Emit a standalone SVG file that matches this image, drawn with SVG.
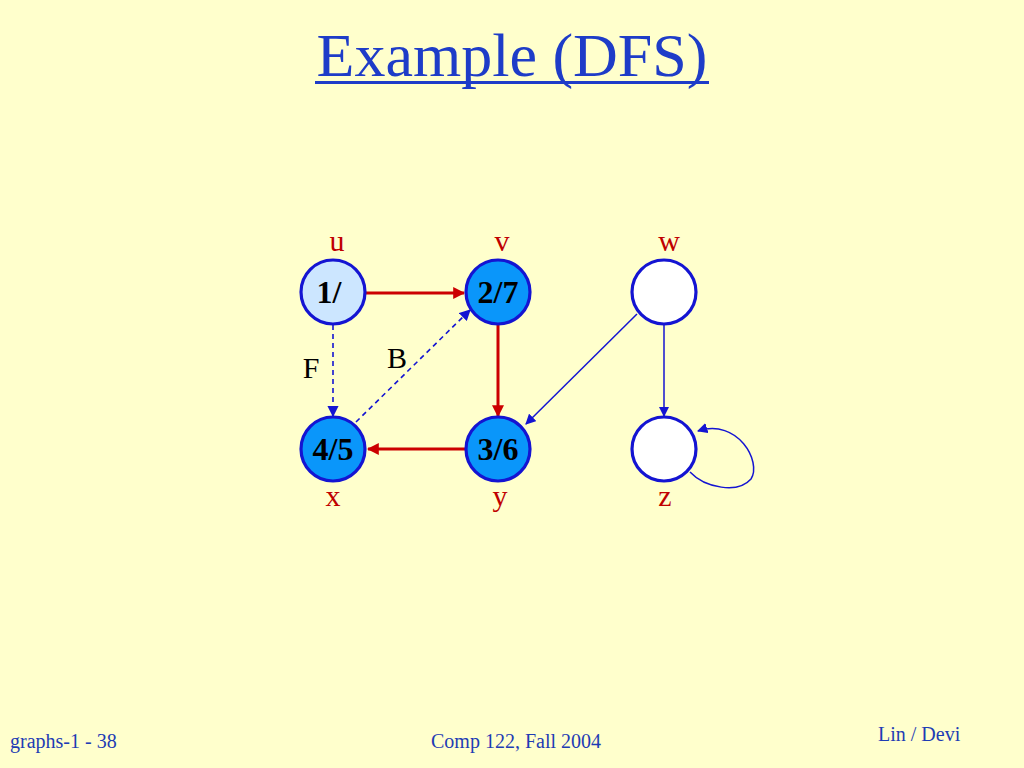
<svg xmlns="http://www.w3.org/2000/svg" width="1024" height="768" viewBox="0 0 1024 768">
<defs>
<style>
.bg{fill:#FFFFCC}
.node{stroke:#1414D2;stroke-width:3.2}
.white{fill:#FFFFFF}
.light{fill:#CCE6FF}
.dark{fill:#0A96FA}
.ntext{font-family:"Liberation Serif",serif;font-weight:bold;font-size:32px;fill:#000;text-anchor:middle}
.lbl{font-family:"Liberation Serif",serif;font-size:30px;fill:#C00000;text-anchor:middle}
.elbl{font-family:"Liberation Serif",serif;font-size:30px;fill:#000;text-anchor:middle}
.red{stroke:#CC0000;stroke-width:3;fill:none}
.blue{stroke:#1414D2;stroke-width:1.5;fill:none}
.dash{stroke:#1414D2;stroke-width:1.6;fill:none;stroke-dasharray:5,4}
.foot{font-family:"Liberation Serif",serif;font-size:20px;fill:#1E3CB4}
</style>
<marker id="ar" viewBox="0 0 10 10" refX="9" refY="5" markerWidth="4" markerHeight="4" orient="auto" markerUnits="strokeWidth">
<path d="M0,0 L10,5 L0,10 z" fill="#CC0000"/>
</marker>
<marker id="ab" viewBox="0 0 10 10" refX="9" refY="5" markerWidth="7" markerHeight="7" orient="auto" markerUnits="strokeWidth">
<path d="M0,0 L10,5 L0,10 z" fill="#1414D2"/>
</marker>
</defs>
<rect class="bg" x="0" y="0" width="1024" height="768"/>
<g id="title">
<text x="512" y="76" font-family="Liberation Serif,serif" font-size="62" fill="#1E3CC8" text-anchor="middle">Example (DFS)</text>
<rect x="315" y="81" width="394" height="3" fill="#1E3CC8"/>
</g>
<g id="connectors">
<line class="red" x1="366" y1="293" x2="464" y2="293" marker-end="url(#ar)"/>
<line class="red" x1="498" y1="324" x2="498" y2="416" marker-end="url(#ar)"/>
<line class="red" x1="465" y1="449" x2="368" y2="449" marker-end="url(#ar)"/>
<line class="dash" x1="333" y1="325" x2="333" y2="416" marker-end="url(#ab)"/>
<line class="dash" x1="356" y1="422" x2="470" y2="310" marker-end="url(#ab)"/>
<line class="blue" x1="637" y1="314" x2="526" y2="424" marker-end="url(#ab)"/>
<line class="blue" x1="664" y1="325" x2="664" y2="416" marker-end="url(#ab)"/>
<path class="blue" d="M690,472 C705,488 738,494 751,479 C762,462 738,418 698,431" marker-end="url(#ab)"/>
</g>
<g id="u"><circle class="node light" cx="333" cy="292" r="32"/><text class="ntext" x="329" y="303">1/</text><text class="lbl" x="337" y="251">u</text></g>
<g id="v"><circle class="node dark" cx="498" cy="292" r="32"/><text class="ntext" x="498" y="303">2/7</text><text class="lbl" x="502" y="251">v</text></g>
<g id="w"><circle class="node white" cx="664" cy="292" r="32"/><text class="lbl" x="669" y="251">w</text></g>
<g id="x"><circle class="node dark" cx="333" cy="449" r="32"/><text class="ntext" x="333" y="460">4/5</text><text class="lbl" x="333" y="506">x</text></g>
<g id="y"><circle class="node dark" cx="498" cy="449" r="32"/><text class="ntext" x="498" y="460">3/6</text><text class="lbl" x="500" y="506">y</text></g>
<g id="z"><circle class="node white" cx="664" cy="449" r="32"/><text class="lbl" x="665" y="506">z</text></g>
<g id="edge-labels">
<text class="elbl" x="311" y="378">F</text>
<text class="elbl" x="397" y="368">B</text>
</g>
<g id="footer">
<text class="foot" x="10" y="748">graphs-1 - 38</text>
<text class="foot" x="516" y="748" text-anchor="middle">Comp 122, Fall 2004</text>
<text class="foot" x="878" y="741">Lin / Devi</text>
</g>
</svg>
